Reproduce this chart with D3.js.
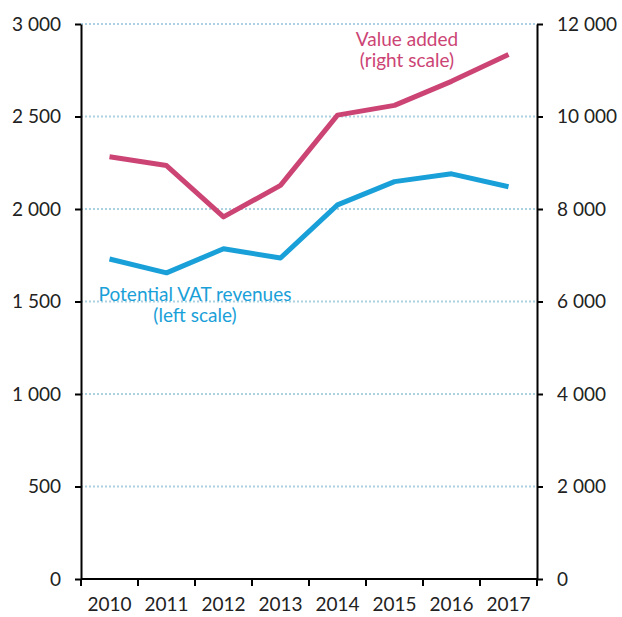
<!DOCTYPE html>
<html>
<head>
<meta charset="utf-8">
<script src="https://cdn.jsdelivr.net/npm/d3@7"></script>
<style>
  body { margin: 0; background: #fff; }
  text { font-family: Lato, "Open Sans", sans-serif; }
</style>
</head>
<body>
<script>
var years = ["2010", "2011", "2012", "2013", "2014", "2015", "2016", "2017"];
var vatRevenues = [1730, 1655, 1785, 1735, 2022, 2148, 2190, 2120];
var valueAdded = [9130, 8940, 7830, 8510, 10030, 10240, 10760, 11340];
var leftTicks = [0, 500, 1000, 1500, 2000, 2500, 3000];
var rightTicks = [0, 2000, 4000, 6000, 8000, 10000, 12000];

var w = 622, h = 617;
var mLeft = 81, mRight = 537, mTop = 24, mBottom = 579;
var red = "#cc4474", blue = "#1aa0d8";
var fs = "19px";

var fmt = function(d) { return d3.format(",")(d).replace(/,/g, " "); };

var svg = d3.select("body").append("svg")
  .attr("width", w)
  .attr("height", h);

var x = d3.scaleBand().domain(years).range([mLeft, mRight]);
var yL = d3.scaleLinear().domain([0, 3000]).range([mBottom, mTop]);
var yR = d3.scaleLinear().domain([0, 12000]).range([mBottom, mTop]);

// dotted gridlines
svg.append("g").selectAll("line")
  .data(leftTicks.filter(function(d) { return d > 0; }))
  .enter().append("line")
  .attr("x1", mLeft).attr("x2", mRight)
  .attr("y1", function(d) { return yL(d); })
  .attr("y2", function(d) { return yL(d); })
  .attr("stroke", "#acd2e2")
  .attr("stroke-width", 2)
  .attr("stroke-dasharray", "2,2");

function styleAxis(g) {
  g.selectAll("path, line").attr("stroke", "#000").attr("stroke-width", 2);
  g.selectAll("text").attr("fill", "#222").style("font-size", fs);
}

svg.append("g")
  .attr("transform", "translate(" + mLeft + ",0)")
  .call(d3.axisLeft(yL).tickValues(leftTicks).tickFormat(fmt).tickSizeInner(6).tickSizeOuter(0).tickPadding(14))
  .call(styleAxis);

svg.append("g")
  .attr("transform", "translate(" + mRight + ",0)")
  .call(d3.axisRight(yR).tickValues(rightTicks).tickFormat(fmt).tickSizeInner(6).tickSizeOuter(0).tickPadding(14))
  .call(styleAxis);

var xAxis = svg.append("g")
  .attr("transform", "translate(0," + mBottom + ")")
  .call(d3.axisBottom(x).tickSize(0).tickPadding(19))
  .call(styleAxis);
xAxis.select(".domain").attr("d", "M" + mLeft + ",0H" + mRight);

// ticks between the categories
svg.append("g").selectAll("line")
  .data(d3.range(years.length + 1))
  .enter().append("line")
  .attr("x1", function(i) { return mLeft + i * x.step(); })
  .attr("x2", function(i) { return mLeft + i * x.step(); })
  .attr("y1", mBottom).attr("y2", mBottom + 7)
  .attr("stroke", "#000").attr("stroke-width", 2);

var cx = function(d, i) { return x(years[i]) + x.bandwidth() / 2; };

svg.append("path")
  .datum(valueAdded)
  .attr("fill", "none")
  .attr("stroke", red)
  .attr("stroke-width", 5)
  .attr("stroke-linejoin", "round")
  .attr("d", d3.line().x(cx).y(function(d) { return yR(d); }));

svg.append("path")
  .datum(vatRevenues)
  .attr("fill", "none")
  .attr("stroke", blue)
  .attr("stroke-width", 5)
  .attr("stroke-linejoin", "round")
  .attr("d", d3.line().x(cx).y(function(d) { return yL(d); }));

var redLabel = svg.append("text")
  .attr("text-anchor", "middle")
  .attr("fill", red)
  .style("font-size", fs);
redLabel.append("tspan").attr("x", 407).attr("y", 46).text("Value added");
redLabel.append("tspan").attr("x", 407).attr("y", 67).text("(right scale)");

var blueLabel = svg.append("text")
  .attr("text-anchor", "middle")
  .attr("fill", blue)
  .style("font-size", fs);
blueLabel.append("tspan").attr("x", 195).attr("y", 301).text("Potential VAT revenues");
blueLabel.append("tspan").attr("x", 195).attr("y", 322).text("(left scale)");
</script>
</body>
</html>
